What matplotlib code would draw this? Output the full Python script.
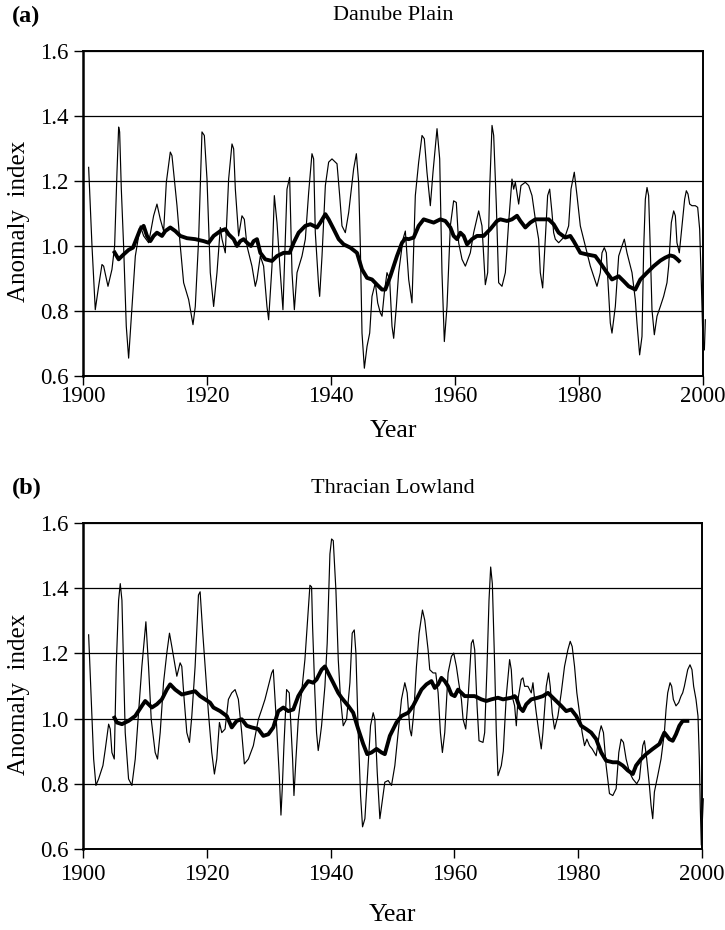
import numpy as np
import matplotlib
matplotlib.use("Agg")
import matplotlib.pyplot as plt

plt.rcParams['font.family'] = ['Liberation Serif', 'DejaVu Serif']

# ---- (a) Danube Plain: raw anomaly index ----
yr_a = [1900.91, 1901.45, 1901.98, 1902.52, 1903.06, 1903.33, 1904.03, 1904.67, 1905.10, 1905.48,
        1905.75, 1905.91, 1906.18, 1906.55, 1906.98, 1907.36, 1907.90, 1908.44, 1909.24, 1909.78,
        1910.59, 1911.39, 1911.93, 1912.47, 1913.01, 1913.44, 1914.08, 1914.35, 1915.16, 1915.69,
        1916.23, 1917.04, 1917.74, 1918.11, 1918.65, 1919.19, 1919.57, 1920.00, 1920.53, 1921.07,
        1921.61, 1922.15, 1922.42, 1922.95, 1923.49, 1924.03, 1924.30, 1924.57, 1925.10, 1925.64,
        1926.02, 1926.45, 1927.25, 1927.79, 1928.06, 1928.60, 1929.13, 1929.67, 1929.94, 1930.48,
        1930.86, 1931.29, 1931.82, 1932.25, 1932.90, 1933.33, 1933.71, 1934.09, 1934.52, 1935.32,
        1935.86, 1936.40, 1936.93, 1937.20, 1937.47, 1938.01, 1938.17, 1938.55, 1939.09, 1939.62,
        1940.16, 1940.97, 1941.40, 1941.77, 1942.31, 1942.85, 1943.65, 1944.09, 1944.46, 1944.73,
        1945.00, 1945.38, 1945.81, 1946.24, 1946.61, 1947.15, 1947.53, 1947.96, 1948.23, 1948.60,
        1949.03, 1949.46, 1949.84, 1950.11, 1950.54, 1950.91, 1951.61, 1951.99, 1952.53, 1953.06,
        1953.60, 1954.14, 1954.68, 1955.05, 1955.48, 1956.02, 1956.45, 1957.10, 1957.53, 1957.90,
        1958.28, 1958.71, 1959.25, 1959.78, 1960.21, 1960.59, 1961.13, 1961.67, 1962.47, 1963.01,
        1963.82, 1964.35, 1964.89, 1965.27, 1965.59, 1965.97, 1966.24, 1966.67, 1967.04, 1967.58,
        1968.12, 1968.65, 1969.19, 1969.46, 1969.73, 1970.27, 1970.64, 1971.34, 1971.88, 1972.42,
        1972.96, 1973.49, 1973.76, 1974.14, 1974.57, 1974.94, 1975.27, 1975.64, 1975.91, 1976.18,
        1976.72, 1977.26, 1977.79, 1978.33, 1978.71, 1979.24, 1979.68, 1980.21, 1980.75, 1981.83,
        1982.90, 1983.44, 1983.71, 1984.08, 1984.41, 1984.78, 1985.05, 1985.32, 1985.86, 1986.40,
        1986.93, 1987.31, 1987.74, 1988.55, 1989.08, 1989.35, 1989.78, 1990.16, 1990.43, 1990.70,
        1990.97, 1991.23, 1991.50, 1991.77, 1992.15, 1992.58, 1993.12, 1993.65, 1994.19, 1994.46,
        1994.89, 1995.27, 1995.54, 1995.80, 1996.18, 1996.45, 1996.77, 1997.04, 1997.31, 1997.58,
        1997.85, 1998.22, 1998.76, 1999.14, 1999.46, 1999.73, 2000.00, 2000.22, 2000.38]
val_a = [1.242, 1.000, 0.804, 0.876, 0.943, 0.938, 0.876, 0.928, 1.000, 1.227,
         1.366, 1.351, 1.175, 1.000, 0.753, 0.655, 0.814, 0.969, 1.062, 1.031,
         1.010, 1.093, 1.129, 1.082, 1.046, 1.196, 1.289, 1.278, 1.124, 1.000,
         0.887, 0.835, 0.758, 0.814, 1.021, 1.351, 1.340, 1.206, 0.918, 0.814,
         0.918, 1.057, 1.021, 0.979, 1.206, 1.314, 1.299, 1.175, 1.031, 1.093,
         1.082, 1.000, 0.938, 0.876, 0.897, 0.969, 0.938, 0.814, 0.773, 0.938,
         1.155, 1.072, 0.918, 0.804, 1.175, 1.211, 0.918, 0.804, 0.918, 0.969,
         1.021, 1.165, 1.284, 1.268, 1.041, 0.876, 0.845, 0.969, 1.186, 1.258,
         1.268, 1.253, 1.155, 1.062, 1.041, 1.103, 1.237, 1.284, 1.196, 1.000,
         0.732, 0.624, 0.691, 0.732, 0.845, 0.887, 0.825, 0.794, 0.784, 0.856,
         0.918, 0.897, 0.753, 0.716, 0.814, 0.918, 1.021, 1.046, 0.897, 0.825,
         1.155, 1.258, 1.340, 1.330, 1.227, 1.124, 1.227, 1.361, 1.268, 0.918,
         0.706, 0.814, 1.062, 1.139, 1.134, 1.010, 0.959, 0.938, 0.979, 1.041,
         1.108, 1.062, 0.881, 0.918, 1.175, 1.371, 1.340, 1.124, 0.887, 0.876,
         0.918, 1.072, 1.206, 1.175, 1.196, 1.129, 1.186, 1.196, 1.186, 1.155,
         1.082, 1.021, 0.918, 0.871, 1.021, 1.155, 1.175, 1.103, 1.041, 1.021,
         1.010, 1.021, 1.031, 1.062, 1.175, 1.227, 1.155, 1.062, 1.021, 0.938,
         0.876, 0.918, 0.979, 0.995, 0.979, 0.856, 0.763, 0.732, 0.814, 0.969,
         1.000, 1.021, 0.979, 0.918, 0.835, 0.763, 0.665, 0.722, 0.990, 1.144,
         1.180, 1.155, 0.990, 0.804, 0.727, 0.784, 0.814, 0.845, 0.887, 0.938,
         1.072, 1.108, 1.093, 1.010, 0.979, 1.031, 1.093, 1.144, 1.170, 1.160,
         1.129, 1.124, 1.124, 1.119, 1.052, 0.887, 0.701, 0.680, 0.773]

# (a) smoothed curve
yr_a_s = [1904.94, 1905.75, 1906.55, 1907.36, 1908.06, 1908.60, 1909.24, 1909.78, 1910.32, 1910.86,
          1911.39, 1911.93, 1912.74, 1913.27, 1914.08, 1914.89, 1915.69, 1916.77, 1918.11, 1919.46,
          1920.26, 1921.07, 1922.15, 1922.95, 1923.49, 1924.30, 1924.83, 1925.37, 1925.91, 1926.45,
          1927.09, 1927.52, 1928.06, 1928.60, 1929.40, 1930.48, 1931.29, 1932.36, 1933.33, 1933.98,
          1934.78, 1935.86, 1936.67, 1937.74, 1938.28, 1939.09, 1939.62, 1940.43, 1941.24, 1942.04,
          1943.12, 1944.19, 1945.00, 1945.81, 1946.61, 1947.42, 1948.23, 1948.76, 1949.57, 1950.64,
          1951.45, 1951.99, 1952.53, 1953.33, 1954.14, 1954.95, 1955.75, 1956.56, 1957.63, 1958.44,
          1959.25, 1959.78, 1960.32, 1960.86, 1961.40, 1961.94, 1962.74, 1963.55, 1964.62, 1965.70,
          1966.77, 1967.31, 1968.39, 1969.19, 1970.00, 1970.54, 1971.34, 1972.15, 1972.96, 1974.30,
          1975.11, 1975.91, 1976.72, 1977.79, 1978.60, 1979.14, 1980.21, 1981.29, 1982.63, 1983.44,
          1984.51, 1985.32, 1985.86, 1986.40, 1987.20, 1988.01, 1989.08, 1989.89, 1990.97, 1992.04,
          1993.12, 1993.90, 1994.70, 1995.30, 1995.80, 1996.34]
val_a_s = [0.985, 0.959, 0.974, 0.988, 0.995, 1.021, 1.052, 1.062, 1.031, 1.015,
           1.031, 1.041, 1.031, 1.046, 1.057, 1.046, 1.031, 1.024, 1.021, 1.015,
           1.010, 1.031, 1.046, 1.052, 1.036, 1.021, 1.000, 1.015, 1.021, 1.010,
           1.000, 1.015, 1.021, 0.979, 0.959, 0.954, 0.969, 0.979, 0.979, 1.010,
           1.041, 1.062, 1.067, 1.057, 1.072, 1.098, 1.082, 1.052, 1.021, 1.005,
           0.995, 0.979, 0.928, 0.902, 0.897, 0.881, 0.866, 0.866, 0.907, 0.969,
           1.010, 1.023, 1.021, 1.026, 1.062, 1.082, 1.077, 1.072, 1.082, 1.077,
           1.057, 1.031, 1.021, 1.041, 1.031, 1.005, 1.021, 1.031, 1.031, 1.052,
           1.077, 1.082, 1.077, 1.082, 1.093, 1.077, 1.057, 1.072, 1.082, 1.082,
           1.082, 1.067, 1.041, 1.026, 1.031, 1.015, 0.979, 0.974, 0.969, 0.948,
           0.918, 0.897, 0.902, 0.907, 0.892, 0.876, 0.866, 0.897, 0.918, 0.938,
           0.955, 0.964, 0.971, 0.968, 0.960, 0.950]

# ---- (b) Thracian Lowland: raw anomaly index ----
yr_b = [1900.91, 1901.45, 1901.72, 1902.09, 1902.52, 1903.22, 1903.60, 1904.14, 1904.40, 1904.67,
        1905.05, 1905.37, 1905.75, 1906.02, 1906.29, 1906.55, 1906.82, 1907.36, 1907.90, 1908.44,
        1908.97, 1909.51, 1910.16, 1910.59, 1911.02, 1911.66, 1912.04, 1912.47, 1913.01, 1913.54,
        1913.97, 1914.35, 1914.89, 1915.16, 1915.69, 1915.96, 1916.34, 1916.77, 1917.20, 1917.58,
        1918.11, 1918.65, 1918.92, 1919.35, 1919.73, 1920.26, 1920.80, 1921.23, 1921.61, 1922.04,
        1922.42, 1922.95, 1923.49, 1924.03, 1924.57, 1925.10, 1925.64, 1926.07, 1926.72, 1927.52,
        1928.33, 1928.87, 1929.40, 1929.94, 1930.48, 1930.74, 1931.28, 1931.71, 1931.98, 1932.19,
        1932.46, 1932.89, 1933.32, 1933.54, 1933.86, 1934.08, 1934.40, 1934.78, 1935.31, 1935.85,
        1936.39, 1936.66, 1936.93, 1937.09, 1937.46, 1937.73, 1938.00, 1938.27, 1938.54, 1939.08,
        1939.45, 1939.89, 1940.16, 1940.43, 1940.86, 1941.24, 1941.61, 1942.04, 1942.58, 1943.12,
        1943.49, 1943.82, 1944.09, 1944.46, 1944.84, 1945.16, 1945.54, 1946.07, 1946.45, 1946.88,
        1947.15, 1947.53, 1947.96, 1948.39, 1948.76, 1949.30, 1949.84, 1950.38, 1950.91, 1951.45,
        1951.99, 1952.37, 1952.80, 1953.06, 1953.44, 1953.87, 1954.30, 1954.84, 1955.21, 1955.75,
        1956.02, 1956.56, 1956.99, 1957.37, 1957.74, 1958.06, 1958.44, 1958.98, 1959.52, 1959.89,
        1960.32, 1960.70, 1961.13, 1961.40, 1961.83, 1962.20, 1962.74, 1963.01, 1963.28, 1963.66,
        1963.98, 1964.62, 1964.89, 1965.27, 1965.59, 1965.86, 1966.13, 1966.51, 1966.77, 1967.04,
        1967.58, 1967.90, 1968.38, 1968.92, 1969.19, 1969.46, 1969.73, 1970.00, 1970.27, 1970.80,
        1971.07, 1971.34, 1971.88, 1972.42, 1972.69, 1972.96, 1973.22, 1973.65, 1974.03, 1974.30,
        1974.84, 1975.21, 1975.48, 1975.80, 1976.18, 1976.72, 1977.26, 1977.79, 1978.33, 1978.71,
        1979.03, 1979.41, 1979.78, 1980.21, 1980.64, 1981.02, 1981.40, 1981.83, 1982.26, 1982.90,
        1983.44, 1983.71, 1984.08, 1984.51, 1985.05, 1985.59, 1986.13, 1986.56, 1986.93, 1987.31,
        1987.74, 1988.28, 1988.82, 1989.46, 1989.89, 1990.43, 1990.70, 1991.07, 1991.50, 1991.77,
        1992.04, 1992.31, 1992.85, 1993.38, 1993.92, 1994.19, 1994.46, 1994.84, 1995.10, 1995.37,
        1995.80, 1996.23, 1996.61, 1996.88, 1997.15, 1997.69, 1998.06, 1998.38, 1998.65, 1999.03,
        1999.35, 1999.57, 1999.73, 1999.89, 2000.21]
val_b = [1.257, 0.998, 0.876, 0.795, 0.815, 0.856, 0.906, 0.983, 0.968, 0.896,
         0.876, 1.160, 1.363, 1.414, 1.363, 1.160, 0.957, 0.815, 0.795, 0.876,
         1.018, 1.160, 1.297, 1.160, 0.998, 0.896, 0.876, 0.957, 1.110, 1.201,
         1.262, 1.221, 1.160, 1.130, 1.171, 1.160, 1.059, 0.957, 0.927, 1.008,
         1.160, 1.379, 1.389, 1.262, 1.160, 1.018, 0.896, 0.830, 0.876, 0.988,
         0.957, 0.968, 1.059, 1.079, 1.089, 1.059, 0.957, 0.861, 0.876, 0.917,
         0.998, 1.028, 1.059, 1.099, 1.140, 1.150, 0.978, 0.825, 0.704, 0.785,
         0.917, 1.089, 1.079, 0.998, 0.876, 0.764, 0.876, 0.998, 1.079, 1.181,
         1.333, 1.409, 1.404, 1.282, 1.079, 0.957, 0.902, 0.937, 0.978, 1.099,
         1.231, 1.505, 1.551, 1.546, 1.393, 1.180, 1.059, 0.978, 0.998, 1.110,
         1.262, 1.272, 1.201, 0.957, 0.764, 0.668, 0.693, 0.856, 0.978, 1.018,
         0.998, 0.836, 0.693, 0.754, 0.805, 0.810, 0.795, 0.856, 0.957, 1.059,
         1.110, 1.079, 0.968, 0.947, 1.018, 1.160, 1.262, 1.333, 1.302, 1.211,
         1.150, 1.140, 1.140, 1.079, 0.957, 0.896, 0.957, 1.140, 1.191, 1.201,
         1.160, 1.110, 1.059, 0.998, 0.968, 1.059, 1.231, 1.242, 1.211, 1.039,
         0.932, 0.927, 0.957, 1.160, 1.363, 1.465, 1.414, 1.160, 0.957, 0.825,
         0.856, 0.900, 1.069, 1.181, 1.150, 1.059, 1.039, 0.978, 1.059, 1.120,
         1.125, 1.099, 1.099, 1.079, 1.110, 1.059, 1.018, 0.957, 0.907, 0.957,
         1.099, 1.140, 1.099, 1.018, 0.968, 1.008, 1.079, 1.160, 1.211, 1.237,
         1.221, 1.160, 1.079, 1.018, 0.957, 0.917, 0.937, 0.917, 0.907, 0.886,
         0.957, 0.978, 0.957, 0.856, 0.770, 0.764, 0.785, 0.896, 0.937, 0.927,
         0.876, 0.836, 0.815, 0.800, 0.815, 0.917, 0.932, 0.876, 0.795, 0.734,
         0.693, 0.775, 0.825, 0.876, 0.957, 1.028, 1.079, 1.110, 1.099, 1.059,
         1.039, 1.049, 1.069, 1.079, 1.099, 1.150, 1.165, 1.150, 1.099, 1.059,
         1.008, 0.876, 0.724, 0.612, 0.754]

# (b) smoothed curve
yr_b_s = [1904.94, 1905.48, 1906.29, 1907.36, 1908.44, 1909.51, 1910.05, 1910.59, 1911.12, 1911.93,
          1912.74, 1913.54, 1914.08, 1914.89, 1915.96, 1917.04, 1918.11, 1918.92, 1919.73, 1920.53,
          1921.07, 1922.15, 1923.22, 1924.03, 1924.83, 1925.64, 1926.45, 1927.25, 1928.32, 1929.13,
          1929.94, 1930.74, 1931.55, 1932.36, 1933.16, 1933.97, 1934.78, 1935.58, 1936.39, 1937.19,
          1937.73, 1938.54, 1939.08, 1939.61, 1940.42, 1941.23, 1941.77, 1942.85, 1943.65, 1944.46,
          1945.27, 1945.91, 1946.61, 1947.42, 1948.23, 1948.76, 1949.57, 1950.64, 1951.45, 1952.53,
          1953.33, 1954.14, 1954.68, 1955.48, 1956.29, 1956.83, 1957.37, 1957.90, 1958.44, 1958.98,
          1959.52, 1960.05, 1960.59, 1961.13, 1961.67, 1962.47, 1963.28, 1964.35, 1965.16, 1965.97,
          1967.04, 1967.85, 1969.19, 1969.73, 1970.00, 1970.54, 1971.07, 1971.61, 1972.42, 1973.49,
          1974.30, 1975.11, 1975.64, 1976.45, 1977.26, 1978.06, 1978.87, 1979.68, 1980.48, 1981.29,
          1982.10, 1982.90, 1983.71, 1984.51, 1985.59, 1986.40, 1987.20, 1988.01, 1988.82, 1989.35,
          1990.16, 1990.97, 1992.04, 1993.12, 1993.92, 1994.73, 1995.27, 1995.80, 1996.34, 1996.88,
          1997.95]
val_b_s = [1.008, 0.988, 0.983, 0.993, 1.008, 1.039, 1.054, 1.044, 1.034, 1.044,
           1.059, 1.089, 1.105, 1.089, 1.074, 1.079, 1.084, 1.069, 1.059, 1.049,
           1.034, 1.023, 1.008, 0.973, 0.993, 0.998, 0.978, 0.973, 0.968, 0.947,
           0.952, 0.973, 1.023, 1.034, 1.023, 1.028, 1.069, 1.094, 1.115, 1.110,
           1.120, 1.150, 1.160, 1.140, 1.110, 1.079, 1.064, 1.039, 1.018, 0.968,
           0.922, 0.891, 0.896, 0.907, 0.896, 0.891, 0.947, 0.988, 1.008, 1.018,
           1.039, 1.069, 1.089, 1.105, 1.115, 1.094, 1.105, 1.125, 1.115, 1.099,
           1.074, 1.069, 1.089, 1.079, 1.069, 1.069, 1.069, 1.059, 1.054, 1.059,
           1.064, 1.059, 1.064, 1.069, 1.064, 1.034, 1.023, 1.044, 1.059, 1.064,
           1.069, 1.079, 1.069, 1.054, 1.039, 1.023, 1.028, 1.008, 0.978, 0.968,
           0.957, 0.937, 0.896, 0.871, 0.866, 0.866, 0.856, 0.841, 0.830, 0.856,
           0.876, 0.891, 0.907, 0.922, 0.957, 0.937, 0.932, 0.952, 0.978, 0.993,
           0.993]

panels = [
    (yr_a, val_a, yr_a_s, val_a_s, '(a)', 'Danube Plain'),
    (yr_b, val_b, yr_b_s, val_b_s, '(b)', 'Thracian Lowland'),
]

fig = plt.figure(figsize=(7.25, 9.3), dpi=100)
W, H = 725.0, 930.0
# axes boxes in pixels: left, top, right, bottom
boxes = [(83, 51, 703, 376), (83, 523, 702, 849)]
xtick_pads = [1, 4]
xlabel_pads = [9, 14]

for (yr, val, yrs, vals, tag, name), (l, t, r, b), tp, lp in zip(panels, boxes, xtick_pads, xlabel_pads):
    ax = fig.add_axes([l / W, 1 - b / H, (r - l) / W, (b - t) / H])
    ax.plot(yr, val, color='black', lw=0.85, clip_on=False, zorder=3)
    ax.plot(yrs, vals, color='black', lw=2.8, solid_capstyle='butt', zorder=4)

    ax.set_xlim(1900, 2000)
    ax.set_ylim(0.6, 1.6)
    ax.set_xticks(np.arange(1900, 2001, 20))
    ax.set_yticks(np.arange(0.6, 1.61, 0.2))
    ax.set_yticklabels(['%.1f' % v for v in np.arange(0.6, 1.61, 0.2)])
    ax.yaxis.grid(True, color='black', lw=0.9)
    ax.set_axisbelow(True)
    for s in ax.spines.values():
        s.set_linewidth(1.4)
    ax.spines['left'].set_linewidth(1.8)
    ax.tick_params(direction='out', length=6.5, width=1.0, labelsize=16.5)
    ax.tick_params(axis='y', pad=4)
    ax.tick_params(axis='x', pad=tp)

    ax.set_xlabel('Year', fontsize=18.5, labelpad=lp)
    ax.set_ylabel('Anomaly  index', fontsize=18)
    # label box: right edge ~28 px from the figure edge, centred a bit below the axes middle
    ax.yaxis.set_label_coords((30 - l) / (r - l), 0.5 - 8 / (b - t))

    ax.text(0.5, 1 + 35 / (b - t), name, transform=ax.transAxes,
            ha='center', va='center', fontsize=16)
    fig.text(12 / W, 1 - (t - 35) / H, tag, ha='left', va='center',
             fontsize=17.5, fontweight='bold')

fig.savefig('out.png', dpi=100)
